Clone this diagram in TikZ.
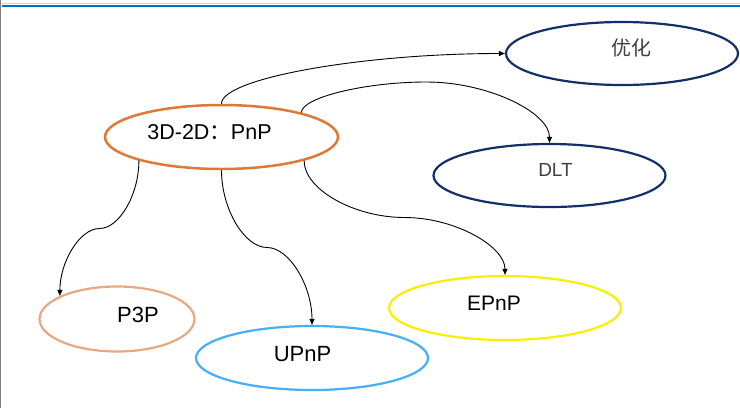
\documentclass[tikz,border=0pt]{standalone}
\usepackage{fontspec}
\setmainfont{Liberation Sans}
\newfontfamily\cjk{Noto Sans CJK SC}
\usetikzlibrary{shapes.geometric,arrows.meta}
\definecolor{mainorange}{HTML}{DF7935}
\definecolor{navy}{HTML}{12306B}
\definecolor{peach}{HTML}{E9A880}
\definecolor{skyblue}{HTML}{45B0F8}
\definecolor{yell}{HTML}{F8F000}
\definecolor{topblue}{HTML}{0070C0}
\definecolor{toplight}{HTML}{BDD7EE}
\definecolor{txtgray}{HTML}{404040}
\tikzset{
  ell/.style={ellipse, inner sep=0pt, line width=2.2pt},
  conn/.style={line width=0.9pt, -{Triangle[length=6pt,width=5pt]}},
  lbl/.style={anchor=base, inner sep=0pt}
}
\begin{document}
\begin{tikzpicture}[x=1pt,y=-1pt]
\useasboundingbox[fill=white] (0,0) rectangle (740,408);
\draw[line width=1pt, gray] (0.5,0) -- (0.5,408);
\draw[line width=1pt, toplight] (1.5,3.8) -- (740,3.8);
\draw[line width=2pt, topblue] (1.5,5.8) -- (740,5.8);

\node[ell, draw=mainorange, line width=2.5pt, minimum width=233pt, minimum height=64pt] (main) at (221.5,137) {};
\node[ell, draw=navy, minimum width=232pt, minimum height=63pt] (opt) at (622,53.5) {};
\node[ell, draw=navy, minimum width=232pt, minimum height=63pt] (dlt) at (549.5,175.5) {};
\node[ell, draw=peach, minimum width=155pt, minimum height=65pt] (p3p) at (117,319) {};
\node[ell, draw=skyblue, minimum width=232pt, minimum height=64pt] (upnp) at (312,358) {};
\node[ell, draw=yell, minimum width=232pt, minimum height=64pt] (epnp) at (505,308) {};

\node[lbl] (maint) at (209.5,139.5) {\fontsize{21.5}{25}\selectfont 3D-2D{\cjk ：}PnP};
\node[lbl, text=txtgray] (optt) at (631.5,55) {\cjk\fontsize{20}{24}\selectfont 优化};
\node[lbl, text=txtgray] (dltt) at (555.5,176.7) {\fontsize{19}{22}\selectfont DLT};
\node[lbl] (p3pt) at (138,322) {\fontsize{22}{26}\selectfont P3P};
\node[lbl] (upnpt) at (302.5,361) {\fontsize{22}{26}\selectfont UPnP};
\node[lbl] (epnpt) at (494,310) {\fontsize{21}{25}\selectfont EPnP};

\draw[conn] (main.north) .. controls +(0,-25.5) and +(-142,0) .. (opt.west);
\draw[conn] (main.17) .. controls +(0,-15) and (365,82) .. (426.5,82)
  .. controls (488,82) and +(0,-30.5) .. (dlt.north);
\draw[conn] (main.196) .. controls +(0,34) and (119.25,228.5) .. (99.5,228.5)
  .. controls (79.75,228.5) and +(0,-34) .. (p3p.158);
\draw[conn] (main.south) .. controls +(0,38.75) and (244.5,247.5) .. (267,247.5)
  .. controls (289.5,247.5) and +(0,-38.75) .. (upnp.north);
\draw[conn] (main.-16) .. controls +(0,28.75) and (354.25,217.5) .. (404.5,217.5)
  .. controls (454.75,217.5) and +(0,-28.75) .. (epnp.north);
\end{tikzpicture}
\end{document}
